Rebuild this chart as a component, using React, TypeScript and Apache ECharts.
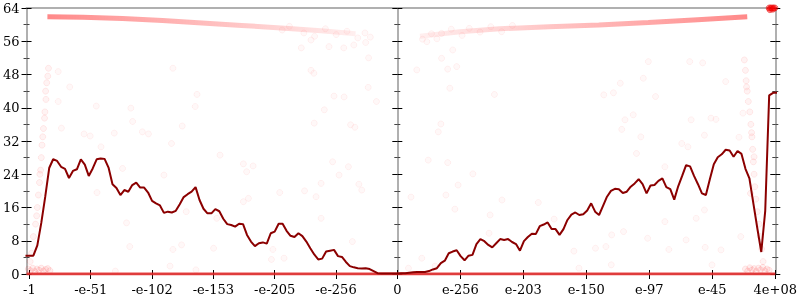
import React, { useEffect, useRef } from "react";
import * as echarts from "echarts";

// x axis: position in exponent units (negative side: -1 .. -0, positive side: 0 .. 4e+08)
const xMin = -1031;
const xMax = 1051;
const tickValues = [-1023, -852.5, -682, -511.5, -341, -170.5, 0, 175.2, 350.3, 525.5, 700.7, 875.8, 1051];
const tickLabels = ["-1", "-e-51", "-e-102", "-e-153", "-e-205", "-e-256", "0", "e-256", "e-203", "e-150", "e-97", "e-45", "4e+08"];

// dark red line: one value per bin, bins start at lineStart and are lineStep wide
const lineStart = -1034;
const lineStep = 11;
const lineValues = [
  4.4,
  4.4, 4.4, 6.9, 12.3, 18.6, 25.5, 27.6, 27.2, 25.8, 25.3,
  23.1, 24.8, 25.2, 27.6, 26.3, 23.6, 25.4, 27.6, 27.8, 27.7,
  25.6, 21.6, 20.7, 19.0, 20.2, 19.8, 21.4, 22.0, 20.8, 20.8,
  19.6, 17.6, 17.0, 16.5, 14.7, 15.0, 14.8, 15.2, 16.8, 18.5,
  19.2, 19.8, 20.9, 17.8, 15.7, 14.6, 14.6, 15.6, 15.1, 13.3,
  12.0, 11.8, 11.4, 12.1, 12.0, 9.4, 7.8, 6.7, 7.4, 7.6,
  7.3, 9.8, 10.2, 12.1, 12.1, 10.4, 9.2, 8.9, 9.8, 9.1,
  7.8, 6.2, 4.7, 3.5, 3.7, 5.4, 5.6, 5.8, 4.3, 4.1,
  2.9, 1.9, 1.6, 1.4, 1.3, 1.4, 1.2, 0.7, 0.2, 0.1,
  0.1, 0.1, 0.1, 0.1, 0.2, 0.2, 0.3, 0.4, 0.5, 0.5,
  0.5, 0.7, 1.1, 1.4, 2.6, 3.2, 5.0, 5.4, 5.7, 4.3,
  3.3, 4.4, 4.6, 7.2, 8.4, 7.9, 7.0, 6.4, 7.4, 8.4,
  8.2, 8.4, 7.7, 7.2, 5.6, 7.9, 8.9, 9.7, 9.6, 11.5,
  11.9, 12.4, 10.8, 10.8, 9.4, 10.8, 13.0, 14.3, 14.8, 14.2,
  14.4, 15.3, 17.0, 15.0, 14.2, 16.4, 18.6, 20.0, 20.5, 20.4,
  19.5, 19.8, 21.0, 21.8, 22.8, 21.6, 19.4, 21.3, 21.4, 22.4,
  23.0, 20.9, 20.4, 17.9, 21.1, 23.6, 26.2, 25.9, 23.6, 21.6,
  19.4, 19.0, 22.8, 26.4, 28.1, 28.8, 29.9, 29.7, 28.2, 29.6,
  28.9, 25.3, 23.0, 17.0, 11.0, 5.3, 15.2, 43.0, 43.6, 43.6,
];

// dense bands of points near the top
const bandLeft = [[-973, 61.9], [-874, 61.8], [-764, 61.5], [-653, 61.0], [-543, 60.4], [-433, 59.8], [-323, 59.2], [-212, 58.5], [-116, 57.8]];
const bandRight = [[63, 57.2], [174, 58.3], [284, 59.0], [422, 59.5], [560, 59.9], [698, 60.5], [835, 61.2], [973, 61.9]];
const zeroLine = [[xMin, 0], [xMax, 0]];

const leftColumn = [
  [-1021, 3], [-1017, 5], [-1012, 9], [-1006, 12], [-1003, 14], [-1001, 16], [-998, 19], [-995, 22], [-994, 24],
  [-992, 25], [-990, 28], [-988, 31], [-986, 33], [-984, 35], [-981, 37.5], [-980, 39], [-978, 44], [-977, 42],
  [-975, 46], [-972, 47.6], [-970, 49.5],
];
const rightColumn = [
  [965, 51.5], [968, 49], [970, 46.5], [971, 45], [973, 44], [976, 41.5], [980, 39], [983, 36], [985, 34], [986, 33],
  [988, 30], [990, 27], [992, 24], [992, 28.2], [994, 21], [982, 19.4], [997, 18], [1001, 15], [1006, 12], [1009, 9],
  [1013, 6], [1017, 3],
];
const cornerPoints = [[1034, 64], [1036, 63.6], [1038, 64], [1042, 64], [1044, 63.7], [1046, 64], [1050, 64]];
const bottomClusters = [
  [-1026, 1.2], [-1020, 0.8], [-1014, 1.4], [-1008, 0.6], [-1002, 1.2], [-996, 0.9], [-990, 1.4], [-984, 0.7],
  [-978, 1.1], [-972, 1.3], [-966, 0.8],
  [968, 1.2], [974, 0.7], [980, 1.5], [986, 1.0], [992, 1.3], [998, 0.6], [1004, 1.4], [1010, 1.0], [1016, 1.6],
  [1022, 0.8], [1028, 1.2], [1034, 0.9],
];
const scatterPoints = [
  [-943, 48.7], [-911, 45.0], [-943, 41.5], [-934, 35.1], [-837, 40.4], [-871, 33.7], [-854, 33.2], [-824, 30.6],
  [-787, 33.9], [-741, 39.9], [-736, 36.7], [-709, 34.2], [-692, 33.7], [-624, 49.5], [-598, 35.6], [-628, 31.4],
  [-557, 43.2], [-562, 40.3],
  [-267, 54.4], [-240, 56.3], [-190, 54.7], [-149, 54.4], [-121, 55.1], [-88, 55.7], [-80, 52], [-240, 49],
  [-232, 48.3], [-81, 44.9], [-176, 42.8], [-148, 42.6], [-58, 41.5], [-203, 39.5], [-231, 36.3], [-130, 35.9],
  [-118, 35.3],
  [82, 55.9], [123, 57.9], [154, 53.9], [123, 51.9], [54, 49.1], [140, 49.3], [165, 49.9], [146, 44.7], [270, 43.2],
  [121, 36.1], [114, 34.2],
  [698, 51.1], [813, 51.1], [849, 50.8], [684, 47.1], [620, 45.9], [601, 43.6], [574, 43.1], [718, 42.7], [913, 46.3],
  [656, 38.3], [633, 37.1], [624, 34.8], [817, 37.1], [872, 37.5], [886, 37.2], [854, 33.4], [677, 33.0], [791, 31.4],
  [808, 30.6], [950, 32.9], [961, 38.7],
  [-753, 12.3], [-744, 6.6], [-835, 19.6], [-764, 25.4], [-649, 23.8], [-624, 5.9], [-600, 7.0], [-587, 15],
  [-632, 1.9], [-784, 0.7], [-560, 1.0],
  [-180, 27], [-136, 25.8], [-162, 23.8], [-212, 21.8], [-258, 20], [-107, 21.6], [-99, 20.2], [-226, 18.6],
  [-212, 13.4], [-125, 7.8], [68, 3.8], [31, 1.4], [86, 27.4], [140, 26.8], [210, 24.1], [169, 21.4], [38, 18.5],
  [135, 19.0], [160, 15.6], [258, 14.2], [255, 9.8],
  [291, 17.8], [392, 17.2], [105, 1.9], [436, 13.2], [491, 5.5], [551, 6.2], [505, 1.4],
  [-428, 26.5], [-401, 26], [-419, 24.6], [-428, 17.4], [-414, 18.2], [-327, 19.6], [-502, 13.4], [-511, 6.2],
  [-346, 5.9], [-315, 3.8], [-350, 3.5], [-493, 28.6],
  [665, 29], [744, 25.8], [596, 9.4], [629, 10.2], [696, 8.6], [580, 6.6], [595, 2.2], [744, 12.6], [755, 5.9],
  [831, 13.4], [854, 15.4], [856, 6.4], [803, 8.2], [900, 5.8], [875, 2.2], [955, 9.0],
  [-320, 58.7], [-300, 59.6], [-260, 58], [-230, 57.2], [-200, 59.0], [-170, 57.6], [-140, 58.4], [-110, 56.8],
  [-90, 58.0], [-75, 57.0], [70, 56.5], [95, 57.8], [110, 56.6], [150, 58.9], [180, 57.4], [200, 59.1], [230, 58.2],
  [260, 59.5], [290, 58.3], [320, 59.8],
];

const FONT = "DejaVu Serif";
const GRAY = "#b0b0b0";

function makeY(kind: "left" | "right" | "center", inside: boolean, showLabel: boolean) {
  const onZero = kind === "center";
  return {
    type: "value",
    min: 0,
    max: 64,
    interval: 8,
    position: kind === "right" ? "right" : "left",
    axisLine: {
      show: true,
      onZero,
      ...(onZero ? { onZeroAxisIndex: 0 } : {}),
      lineStyle: { color: GRAY, width: 2 },
    },
    axisTick: { show: true, inside, length: 5, lineStyle: { color: "#000", width: 1 } },
    minorTick: { show: true, splitNumber: 2, length: 3, lineStyle: { color: "#444", width: 1 } },
    axisLabel: { show: showLabel, margin: 7, color: "#000", fontFamily: FONT, fontSize: 13 },
    splitLine: { show: false },
    minorSplitLine: { show: false },
  };
}

function labelFor(v: number) {
  for (let i = 0; i < tickValues.length; i++) {
    if (Math.abs(tickValues[i] - v) < 0.05) return tickLabels[i];
  }
  return "";
}

export default function App() {
  const ref = useRef<HTMLDivElement>(null);
  useEffect(() => {
    if (!ref.current) return;
    const chart = echarts.init(ref.current, undefined, { renderer: "svg" });
    const lineData = lineValues.map((v, i) => [lineStart + i * lineStep, v]);
    const faint = { color: "rgba(255,0,0,0.035)", borderColor: "rgba(255,0,0,0.07)", borderWidth: 1 };
    const column = { color: "rgba(255,0,0,0.06)", borderColor: "rgba(255,0,0,0.1)", borderWidth: 1 };
    const option = {
      animation: false,
      grid: { left: 23, right: 22, top: 8, bottom: 26, containLabel: false },
      xAxis: [
        {
          type: "value", min: xMin, max: xMax, position: "bottom",
          axisLine: { show: true, onZero: false, lineStyle: { color: GRAY, width: 2 } },
          axisTick: { show: true, inside: false, length: 5, customValues: tickValues, lineStyle: { color: "#000", width: 1 } },
          axisLabel: {
            show: true, customValues: tickValues, formatter: (v: number) => labelFor(v),
            margin: 9, color: "#000", fontFamily: FONT, fontSize: 13,
          },
          splitLine: { show: false },
        },
        {
          type: "value", min: xMin, max: xMax, position: "bottom",
          axisLine: { show: false, onZero: false },
          axisTick: { show: true, inside: true, length: 4, customValues: tickValues, lineStyle: { color: "#000", width: 1 } },
          axisLabel: { show: false },
          splitLine: { show: false },
        },
        {
          type: "value", min: xMin, max: xMax, position: "top",
          axisLine: { show: true, onZero: false, lineStyle: { color: GRAY, width: 2 } },
          axisTick: { show: false },
          axisLabel: { show: false },
          splitLine: { show: false },
        },
      ],
      yAxis: [
        makeY("left", false, true),
        makeY("left", true, false),
        makeY("right", false, false),
        makeY("right", true, false),
        makeY("center", false, false),
        makeY("center", true, false),
      ],
      series: [
        { type: "scatter", data: scatterPoints, symbolSize: 6, itemStyle: faint, silent: true, z: 2 },
        { type: "scatter", data: leftColumn, symbolSize: 6, itemStyle: column, silent: true, z: 2 },
        { type: "scatter", data: rightColumn, symbolSize: 6, itemStyle: column, silent: true, z: 2 },
        { type: "scatter", data: bottomClusters, symbolSize: 6, itemStyle: { color: "rgba(255,0,0,0.08)", borderColor: "rgba(255,0,0,0.12)", borderWidth: 1 }, silent: true, z: 2 },
        {
          type: "line", data: bandLeft, showSymbol: false, symbol: "none", silent: true, z: 3,
          lineStyle: {
            width: 5,
            color: new echarts.graphic.LinearGradient(0, 0, 1, 0, [
              { offset: 0, color: "rgba(255,40,40,0.55)" },
              { offset: 0.6, color: "rgba(255,60,60,0.3)" },
              { offset: 1, color: "rgba(255,60,60,0.08)" },
            ]),
          },
        },
        {
          type: "line", data: bandRight, showSymbol: false, symbol: "none", silent: true, z: 3,
          lineStyle: {
            width: 5,
            color: new echarts.graphic.LinearGradient(0, 0, 1, 0, [
              { offset: 0, color: "rgba(255,60,60,0.08)" },
              { offset: 0.4, color: "rgba(255,60,60,0.3)" },
              { offset: 1, color: "rgba(255,40,40,0.55)" },
            ]),
          },
        },
        { type: "line", data: zeroLine, showSymbol: false, symbol: "none", silent: true, z: 3, lineStyle: { width: 3, color: "rgba(232,40,40,0.85)" } },
        { type: "line", data: lineData, showSymbol: false, symbol: "none", silent: true, z: 4, lineStyle: { width: 2, color: "#8b0000" } },
        { type: "scatter", data: cornerPoints, symbolSize: 6, itemStyle: { color: "rgba(255,0,0,0.5)", borderColor: "rgba(230,0,0,0.6)", borderWidth: 1 }, silent: true, z: 5 },
      ],
    };
    chart.setOption(option as any);
    return () => chart.dispose();
  }, []);
  return <div ref={ref} style={{ position: "fixed", left: 0, top: 0, width: 800, height: 300 }} />;
}
